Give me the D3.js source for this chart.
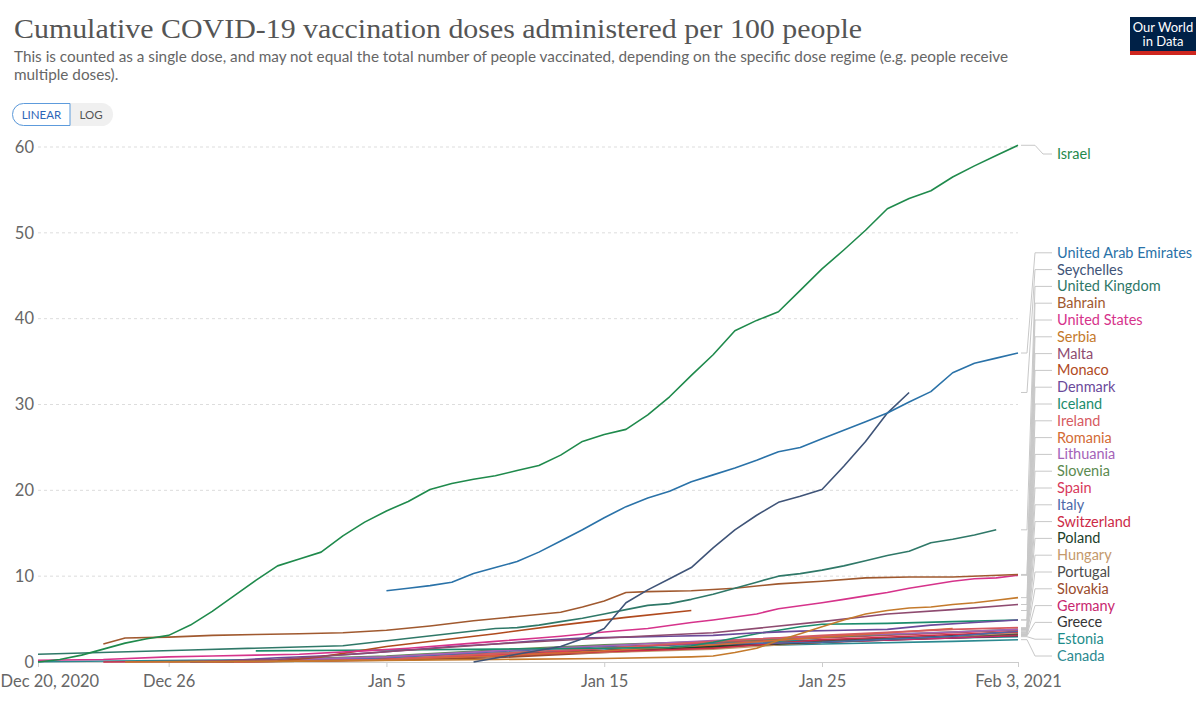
<!DOCTYPE html>
<html>
<head>
<meta charset="utf-8">
<script src="https://cdn.jsdelivr.net/npm/d3@7"></script>
<style>
  body { margin: 0; background: #fff; }
  svg { display: block; font-family: Lato, "Noto Sans", sans-serif; }
</style>
</head>
<body>
<svg id="chart" width="1200" height="704"></svg>
<script>
// ---- data (doses per 100 people) ----
const israel = [["12-20",0],["12-21",0.3],["12-22",0.8],["12-23",1.5],["12-24",2.2],["12-25",2.7],["12-26",3.1],["12-27",4.3],["12-28",5.9],["12-29",7.7],["12-30",9.5],["12-31",11.2],["01-01",12.0],["01-02",12.8],["01-03",14.7],["01-04",16.3],["01-05",17.6],["01-06",18.7],["01-07",20.1],["01-08",20.8],["01-09",21.3],["01-10",21.7],["01-11",22.3],["01-12",22.9],["01-13",24.1],["01-14",25.7],["01-15",26.5],["01-16",27.1],["01-17",28.8],["01-18",30.9],["01-19",33.4],["01-20",35.8],["01-21",38.6],["01-22",39.8],["01-23",40.8],["01-24",43.3],["01-25",45.8],["01-26",48.0],["01-27",50.3],["01-28",52.8],["01-29",54.0],["01-30",54.9],["01-31",56.5],["02-01",57.8],["02-02",59.0],["02-03",60.2]];
const uae = [["01-05",8.3],["01-06",8.6],["01-07",8.9],["01-08",9.3],["01-09",10.3],["01-10",11.0],["01-11",11.7],["01-12",12.8],["01-13",14.1],["01-14",15.4],["01-15",16.8],["01-16",18.1],["01-17",19.1],["01-18",19.9],["01-19",21.0],["01-20",21.8],["01-21",22.6],["01-22",23.5],["01-23",24.5],["01-24",25.0],["01-25",26.0],["01-26",27.0],["01-27",28.0],["01-28",29.0],["01-29",30.3],["01-30",31.5],["01-31",33.7],["02-01",34.8],["02-02",35.4],["02-03",36.0]];
const seychelles = [["01-09",0.0],["01-11",0.9],["01-13",1.8],["01-14",2.7],["01-15",3.9],["01-16",6.9],["01-17",8.4],["01-18",9.7],["01-19",11.0],["01-20",13.3],["01-21",15.4],["01-22",17.1],["01-23",18.6],["01-24",19.3],["01-25",20.1],["01-26",22.8],["01-27",25.7],["01-28",29.0],["01-29",31.4]];
const uk = [["12-20",0.9],["12-27",1.4],["01-03",1.9],["01-10",3.9],["01-11",4.0],["01-12",4.3],["01-13",4.7],["01-14",5.1],["01-15",5.6],["01-16",6.1],["01-17",6.6],["01-18",6.8],["01-19",7.3],["01-20",7.9],["01-21",8.6],["01-22",9.3],["01-23",10.0],["01-24",10.3],["01-25",10.7],["01-26",11.2],["01-27",11.8],["01-28",12.4],["01-29",12.9],["01-30",13.9],["01-31",14.3],["02-01",14.8],["02-02",15.4]];
const bahrain = [["12-23",2.1],["12-24",2.8],["12-26",2.9],["12-28",3.1],["12-30",3.2],["01-01",3.3],["01-03",3.4],["01-05",3.7],["01-07",4.2],["01-09",4.8],["01-11",5.3],["01-13",5.8],["01-14",6.4],["01-15",7.1],["01-16",8.1],["01-17",8.2],["01-19",8.3],["01-21",8.6],["01-23",9.1],["01-25",9.4],["01-27",9.8],["01-29",9.9],["01-31",9.9],["02-03",10.2]];
const unitedStates = [["12-20",0.2],["12-23",0.3],["12-26",0.6],["12-28",0.7],["12-30",0.8],["01-01",0.9],["01-04",1.3],["01-06",1.6],["01-08",2.0],["01-10",2.4],["01-12",2.8],["01-13",3.0],["01-15",3.5],["01-17",3.9],["01-19",4.6],["01-20",4.9],["01-22",5.6],["01-23",6.2],["01-25",6.9],["01-26",7.3],["01-27",7.7],["01-28",8.1],["01-29",8.6],["01-30",9.0],["01-31",9.4],["02-01",9.7],["02-02",9.8],["02-03",10.1]];
const serbia = [["12-24",0.0],["01-01",0.1],["01-10",0.3],["01-15",0.4],["01-19",0.6],["01-20",0.7],["01-21",1.1],["01-22",1.6],["01-23",2.5],["01-24",3.3],["01-25",4.1],["01-26",4.9],["01-27",5.6],["01-28",6.0],["01-29",6.3],["01-30",6.4],["01-31",6.7],["02-01",6.9],["02-02",7.2],["02-03",7.5]];
const malta = [["12-27",0.0],["12-31",0.3],["01-05",1.2],["01-10",2.1],["01-15",2.8],["01-19",3.3],["01-20",3.4],["01-25",4.7],["01-28",5.6],["01-31",6.1],["02-03",6.7]];
const monaco = [["12-31",0.1],["01-02",0.6],["01-05",1.8],["01-10",3.3],["01-13",4.3],["01-16",5.2],["01-19",6.0]];
const denmark = [["12-27",0.0],["12-29",0.2],["12-31",0.5],["01-02",0.7],["01-04",1.0],["01-06",1.4],["01-08",1.8],["01-10",2.1],["01-12",2.5],["01-14",2.8],["01-16",2.9],["01-18",3.0],["01-20",3.1],["01-22",3.4],["01-24",3.6],["01-26",3.7],["01-28",3.8],["01-30",4.3],["02-01",4.6],["02-03",4.9]];
const iceland = [["12-30",1.3],["01-05",1.4],["01-10",1.5],["01-15",1.6],["01-18",1.7],["01-19",1.9],["01-20",2.3],["01-21",2.8],["01-22",3.3],["01-23",3.7],["01-24",4.1],["01-25",4.4],["01-28",4.5],["01-31",4.7],["02-03",4.9]];
const ireland = [["12-29",0.0],["01-05",0.3],["01-10",1.0],["01-15",1.6],["01-20",2.4],["01-25",3.1],["01-31",3.8],["02-03",4.0]];
const romania = [["12-27",0.0],["01-01",0.1],["01-05",0.3],["01-10",0.7],["01-15",1.3],["01-20",2.0],["01-25",2.9],["01-31",3.9]];
const lithuania = [["12-27",0.0],["01-05",0.6],["01-10",1.3],["01-15",1.9],["01-20",2.5],["01-25",3.0],["01-31",3.5],["02-03",3.8]];
const slovenia = [["12-27",0.0],["01-05",0.7],["01-10",1.4],["01-15",2.0],["01-20",2.4],["01-25",2.9],["01-31",3.5],["02-03",3.8]];
const spain = [["12-27",0.0],["01-04",0.2],["01-08",0.6],["01-12",1.0],["01-15",1.6],["01-20",2.3],["01-25",2.8],["01-29",3.2],["02-03",3.7]];
const italy = [["12-27",0.0],["12-31",0.1],["01-05",0.5],["01-10",1.2],["01-15",1.8],["01-20",2.1],["01-25",2.3],["01-31",3.0],["02-03",3.6]];
const switzerland = [["12-23",0.0],["12-30",0.1],["01-05",0.3],["01-10",0.7],["01-15",1.2],["01-20",1.6],["01-25",2.6],["01-31",3.2],["02-03",3.5]];
const poland = [["12-27",0.0],["01-01",0.1],["01-05",0.3],["01-10",0.7],["01-15",1.3],["01-20",1.8],["01-25",2.3],["01-30",2.9],["02-02",3.4]];
const hungary = [["12-26",0.0],["01-01",0.2],["01-05",0.5],["01-10",0.9],["01-15",1.1],["01-20",1.5],["01-25",2.3],["01-31",3.0],["02-03",3.4]];
const portugal = [["12-27",0.0],["01-02",0.3],["01-05",0.6],["01-10",0.9],["01-15",1.3],["01-20",1.9],["01-25",2.5],["01-31",3.0],["02-03",3.3]];
const slovakia = [["12-27",0.0],["01-05",0.2],["01-10",0.5],["01-15",1.1],["01-20",1.7],["01-25",2.4],["01-31",3.0],["02-03",3.2]];
const germany = [["12-27",0.0],["01-01",0.25],["01-05",0.5],["01-10",0.8],["01-15",1.3],["01-20",1.8],["01-25",2.3],["01-31",2.8],["02-03",3.1]];
const greece = [["12-27",0.0],["01-05",0.3],["01-10",0.7],["01-15",1.2],["01-20",1.7],["01-25",2.3],["01-31",2.8],["02-03",3.05]];
const estonia = [["12-27",0.0],["01-02",0.3],["01-05",0.5],["01-10",1.0],["01-15",1.6],["01-20",2.2],["01-25",2.6],["01-31",2.8],["02-03",2.95]];
const canada = [["12-20",0.03],["12-27",0.2],["01-03",0.3],["01-05",0.4],["01-10",1.0],["01-15",1.4],["01-20",1.8],["01-25",2.1],["01-31",2.4],["02-03",2.6]];

const countryNames = ["Israel","United Arab Emirates","Seychelles","United Kingdom","Bahrain","United States","Serbia","Malta","Monaco","Denmark","Iceland","Ireland","Romania","Lithuania","Slovenia","Spain","Italy","Switzerland","Poland","Hungary","Portugal","Slovakia","Germany","Greece","Estonia","Canada"];
const countryValues = [israel, uae, seychelles, uk, bahrain, unitedStates, serbia, malta, monaco, denmark, iceland, ireland, romania, lithuania, slovenia, spain, italy, switzerland, poland, hungary, portugal, slovakia, germany, greece, estonia, canada];
const countryColors = ["#1f8a4c","#2a72a8","#3f5478","#2f7868","#a0592f","#d6338b","#c47a2c","#8e4b70","#b04a1e","#6b4a9a","#1c8c6c","#d65a5f","#d36b36","#a463b8","#5c8a50","#d83a5c","#4d69a8","#cc2b47","#21402a","#c4996c","#4c4c4c","#9a4b2c","#c8286f","#353535","#1e8c8a","#2b8990"];

const yTicks = [0, 10, 20, 30, 40, 50, 60];
const xTicks = ["12-20", "12-26", "01-05", "01-15", "01-25", "02-03"];

// ---- helpers ----
const parseDay = s => {
  const [m, d] = s.split("-").map(Number);
  return new Date(m === 12 ? 2020 : 2021, m - 1, d);
};

const series = countryNames.map((name, i) => ({
  name,
  color: countryColors[i],
  points: countryValues[i].map(([d, v]) => ({ date: parseDay(d), value: v }))
}));

// ---- layout ----
const svg = d3.select("#chart");
const plotLeft = 38, plotRight = 1018, plotTop = 147, plotBottom = 662;

const x = d3.scaleTime().domain([parseDay("12-20"), parseDay("02-03")]).range([plotLeft, plotRight]);
const y = d3.scaleLinear().domain([0, 60]).range([plotBottom, plotTop]);

// header
svg.append("text")
  .attr("x", 14).attr("y", 38)
  .attr("font-family", "'Liberation Serif', 'DejaVu Serif', serif")
  .attr("font-size", 27).attr("fill", "#555")
  .attr("textLength", 848).attr("lengthAdjust", "spacingAndGlyphs")
  .text("Cumulative COVID-19 vaccination doses administered per 100 people");

const sub = svg.append("text").attr("font-size", 15.3).attr("fill", "#666");
sub.append("tspan").attr("x", 14).attr("y", 62)
  .text("This is counted as a single dose, and may not equal the total number of people vaccinated, depending on the specific dose regime (e.g. people receive");
sub.append("tspan").attr("x", 14).attr("y", 80).text("multiple doses).");

// linear / log toggle
const tog = svg.append("g");
tog.append("rect").attr("x", 12).attr("y", 103).attr("width", 101).attr("height", 23)
  .attr("rx", 11.5).attr("fill", "#f0f0f0");
tog.append("path")
  .attr("d", "M70,103.5 H23.5 A11,11 0 0 0 23.5,125.5 H70 Z")
  .attr("fill", "#fff").attr("stroke", "#5d9bdc").attr("stroke-width", 1);
tog.append("text").attr("x", 41.5).attr("y", 119).attr("text-anchor", "middle")
  .attr("font-size", 11.5).attr("fill", "#2d66b8").text("LINEAR");
tog.append("text").attr("x", 91).attr("y", 119).attr("text-anchor", "middle")
  .attr("font-size", 11.5).attr("fill", "#555").text("LOG");

// logo
const logo = svg.append("g");
logo.append("rect").attr("x", 1130).attr("y", 17).attr("width", 66).attr("height", 38).attr("fill", "#002147");
logo.append("rect").attr("x", 1130).attr("y", 51).attr("width", 66).attr("height", 4).attr("fill", "#ce261e");
logo.append("text").attr("x", 1163).attr("y", 32).attr("text-anchor", "middle")
  .attr("font-size", 13).attr("fill", "#fff").text("Our World");
logo.append("text").attr("x", 1163).attr("y", 46).attr("text-anchor", "middle")
  .attr("font-size", 13).attr("fill", "#fff").text("in Data");

// grid + y axis
svg.append("g").selectAll("line")
  .data(yTicks.filter(t => t > 0))
  .join("line")
  .attr("x1", plotLeft).attr("x2", plotRight)
  .attr("y1", d => y(d)).attr("y2", d => y(d))
  .attr("stroke", "#ddd").attr("stroke-dasharray", "3,3");

const yAxis = svg.append("g")
  .attr("transform", `translate(${plotLeft},0)`)
  .call(d3.axisLeft(y).tickValues(yTicks).tickSize(0).tickPadding(4));
yAxis.select(".domain").remove();
yAxis.selectAll("text").attr("font-size", 16.5).attr("fill", "#666").attr("font-family", "Lato");

// x axis
const xFmt = d => {
  if (+d === +parseDay("12-20")) return "Dec 20, 2020";
  if (+d === +parseDay("02-03")) return "Feb 3, 2021";
  return d3.timeFormat("%b %-d")(d);
};
const xAxis = svg.append("g")
  .attr("transform", `translate(0,${plotBottom})`)
  .call(d3.axisBottom(x).tickValues(xTicks.map(parseDay)).tickFormat(xFmt).tickSize(5).tickPadding(8));
xAxis.select(".domain").attr("stroke", "#ccc");
xAxis.selectAll(".tick line").attr("stroke", "#ccc");
xAxis.selectAll("text").attr("font-size", 16.5).attr("fill", "#666").attr("font-family", "Lato");
xAxis.selectAll(".tick").filter((d, i) => i === 0).select("text")
  .attr("text-anchor", "start").attr("x", -plotLeft);

// lines
const line = d3.line().x(d => x(d.date)).y(d => y(d.value));
svg.append("g").selectAll("path")
  .data(series.slice().reverse())
  .join("path")
  .attr("d", d => line(d.points))
  .attr("fill", "none")
  .attr("stroke", d => d.color)
  .attr("stroke-width", 1.6)
  .attr("stroke-linejoin", "round");

// end labels: push overlapping labels down, then clamp the stack to the bottom
const step = 16.8, labelTop = plotTop + 7, labelBottom = plotBottom - 6;
const pos = series.map(s => y(s.points[s.points.length - 1].value));
for (let i = 0; i < pos.length; i++) {
  pos[i] = i === 0 ? Math.max(pos[i], labelTop) : Math.max(pos[i], pos[i - 1] + step);
}
for (let i = pos.length - 1; i >= 0; i--) {
  pos[i] = i === pos.length - 1 ? Math.min(pos[i], labelBottom) : Math.min(pos[i], pos[i + 1] - step);
}

const labels = svg.append("g");
series.forEach((s, i) => {
  const yEnd = y(s.points[s.points.length - 1].value);
  const x0 = plotRight + 3;
  const bend = i === 0 ? 14 : 6;
  labels.append("path")
    .attr("d", `M${x0},${yEnd} H${x0 + bend} L${x0 + bend + 8},${pos[i]} H${x0 + 31}`)
    .attr("fill", "none").attr("stroke", "#c8c8c8").attr("stroke-width", 1);
  labels.append("text")
    .attr("x", plotRight + 39).attr("y", pos[i]).attr("dy", "0.35em")
    .attr("font-size", 14.5).attr("fill", s.color)
    .text(s.name);
});
</script>
</body>
</html>
